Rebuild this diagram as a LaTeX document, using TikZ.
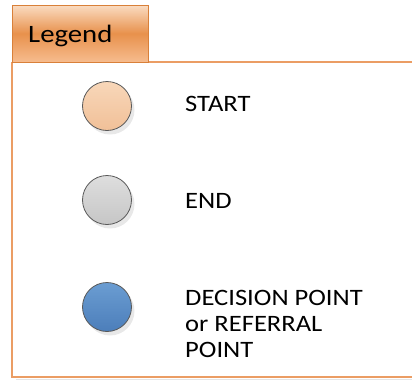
\documentclass[tikz,border=0pt]{standalone}
\usepackage{fontspec}
\setmainfont{Carlito}
\newfontfamily\widefont[FakeStretch=1.13]{Carlito}
\newfontfamily\tabfont[FakeStretch=1.15]{Carlito}
\usetikzlibrary{shadows}
\definecolor{frameor}{HTML}{EB9D64}
\definecolor{tabedge}{HTML}{D98039}
\definecolor{tabtop}{HTML}{FADCC2}
\definecolor{tabmid}{HTML}{E8914C}
\definecolor{tabbot}{HTML}{F6BC8E}
\definecolor{starttop}{HTML}{F8D7B9}
\definecolor{startbot}{HTML}{F1C098}
\definecolor{endtop}{HTML}{DEDEDE}
\definecolor{endbot}{HTML}{C6C6C6}
\definecolor{dectop}{HTML}{6B9DD2}
\definecolor{decbot}{HTML}{4C7EBA}
\tikzset{
  x=1bp, y=-1bp,
  marker/.style={circle, minimum size=49bp, inner sep=0pt, draw=black!65, line width=0.8bp,
    drop shadow={opacity=0.18, shadow xshift=3bp, shadow yshift=-4bp}},
  lbl/.style={anchor=base west, inner sep=0pt, font=\widefont\fontsize{23.5bp}{26bp}\selectfont, align=left},
  frameline/.style={draw=frameor, line width=2bp},
}
\begin{document}
\begin{tikzpicture}
\useasboundingbox (0,0) rectangle (412,380);
% shadow under bottom line
\fill[black!10] (16,378.5) rectangle (412,381);
% frame
\draw[frameline] (148,62) -- (412,62);
\draw[frameline] (12,62) -- (12,377) -- (412,377);
% tab
\shade[top color=tabtop, bottom color=tabbot, middle color=tabmid] (12,5) rectangle (148,62);
\draw[tabedge, line width=1bp] (12,5) rectangle (148,62);
\node[anchor=base west, inner sep=0pt, font=\tabfont\fontsize{25bp}{30bp}\selectfont] (legend) at (28,42) {Legend};
% markers
\node[marker, top color=starttop, bottom color=startbot] (start) at (107,106) {};
\node[marker, top color=endtop, bottom color=endbot] (end) at (107,200) {};
\node[marker, top color=dectop, bottom color=decbot] (dec) at (107,307) {};
% labels
\node[lbl] (tstart) at (185,111) {START};
\node[lbl] (tend) at (185,208) {END};
\node[lbl] (tdec) at (185,357) {DECISION POINT\\or REFERRAL\\POINT};
\end{tikzpicture}
\end{document}
